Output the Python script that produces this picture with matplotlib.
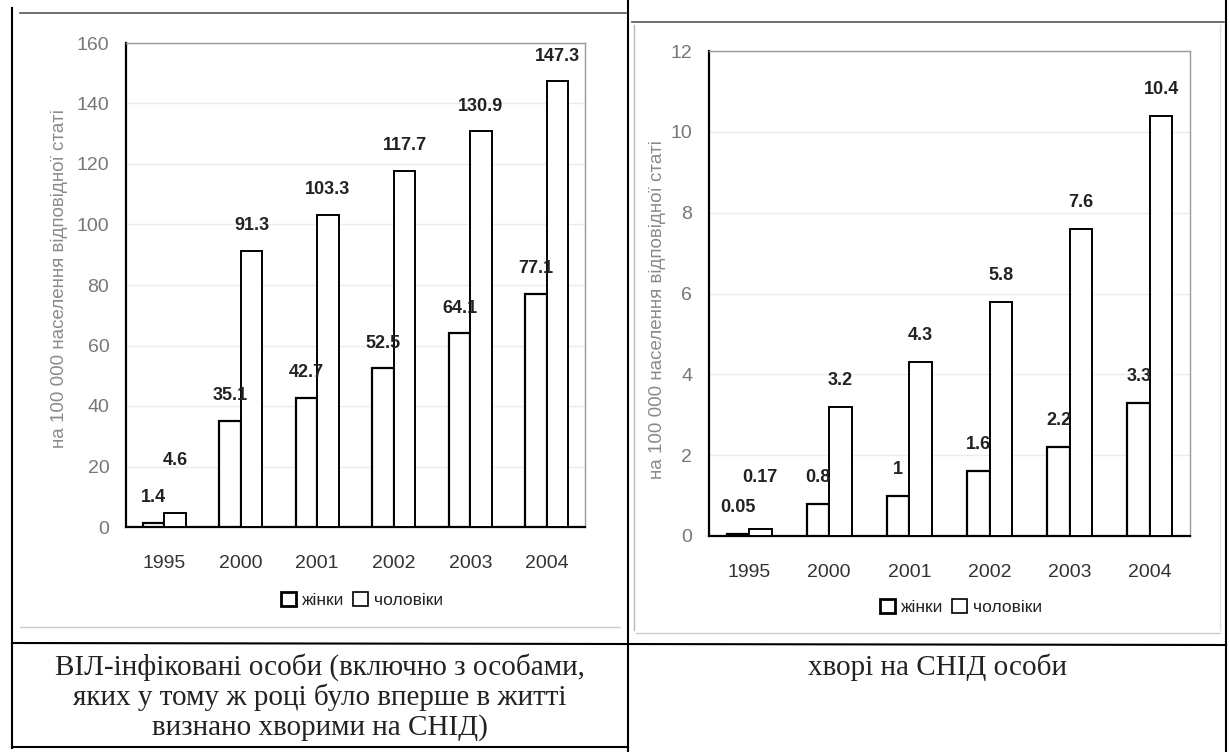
import matplotlib
matplotlib.use("Agg")
import matplotlib.pyplot as plt
from matplotlib.lines import Line2D
from matplotlib.patches import Patch
import numpy as np

plt.rcParams['font.family'] = ['Liberation Sans', 'DejaVu Sans']

# data
years = ['1995', '2000', '2001', '2002', '2003', '2004']
hiv_women = [1.4, 35.1, 42.7, 52.5, 64.1, 77.1]
hiv_men = [4.6, 91.3, 103.3, 117.7, 130.9, 147.3]
aids_women = [0.05, 0.8, 1, 1.6, 2.2, 3.3]
aids_men = [0.17, 3.2, 4.3, 5.8, 7.6, 10.4]

series_names = ['жінки', 'чоловіки']
ylabel = 'на 100 000 населення відповідної статі'
caption_left = ('ВІЛ-інфіковані особи (включно з особами,\n'
                'яких у тому ж році було вперше в житті\n'
                'визнано хворими на СНІД)')
caption_right = 'хворі на СНІД особи'

W, H = 1230, 752
fig = plt.figure(figsize=(W / 100, H / 100), dpi=100)


def px(x, y):
    return x / W, 1 - y / H


def line(x0, y0, x1, y1, color='black', lw=1.5):
    a, b = px(x0, y0)
    c, d = px(x1, y1)
    fig.add_artist(Line2D([a, c], [b, d], color=color, lw=lw,
                          transform=fig.transFigure))


def bar_chart(rect, women, men, ymax, ystep, lab_off, big_off):
    ax = fig.add_axes(rect)
    x = np.arange(len(years))
    w = 0.28
    b1 = ax.bar(x - w / 2, women, w, color='white', edgecolor='black', lw=1.6, zorder=3)
    b2 = ax.bar(x + w / 2, men, w, color='white', edgecolor='black', lw=1.4, zorder=3)
    ax.set_xlim(-0.5, len(years) - 0.5)
    ax.set_ylim(0, ymax)
    ax.set_yticks(np.arange(0, ymax + ystep / 2, ystep))
    ax.set_xticks(x)
    ax.set_xticklabels(years)
    ax.tick_params(length=0, labelsize=14)
    ax.tick_params(axis='y', colors='#777777', pad=12)
    ax.tick_params(axis='x', colors='#333333', pad=20)
    ax.grid(axis='y', color='#ebebeb', lw=1, zorder=0)
    for s in ['left', 'bottom']:
        ax.spines[s].set_color('black')
        ax.spines[s].set_linewidth(1.6)
    for s in ['top', 'right']:
        ax.spines[s].set_color('#999999')
        ax.spines[s].set_linewidth(1.0)
    for bars in (b1, b2):
        for i, r in enumerate(bars):
            v = r.get_height()
            off = big_off if (bars is b2 and i == 0) else lab_off
            ax.annotate(f'{v:g}', (r.get_x() + r.get_width() / 2, v),
                        xytext=(0, off), textcoords='offset points',
                        ha='center', va='center', fontsize=13,
                        fontweight='bold', color='#222222')
    return ax


axl = bar_chart([126 / W, 1 - 527 / H, 459 / W, 484 / H],
                hiv_women, hiv_men, 160, 20, 18, 38)
axr = bar_chart([709 / W, 1 - 536 / H, 481 / W, 485 / H],
                aids_women, aids_men, 12, 2, 19, 37)

handles = [Patch(facecolor='white', edgecolor='black', lw=2.0),
           Patch(facecolor='white', edgecolor='black', lw=1.2)]
for ax, (cx, cy) in ((axl, (362, 600)), (axr, (961, 607))):
    ax.legend(handles, series_names, loc='center', ncol=2,
              bbox_to_anchor=px(cx, cy), bbox_transform=fig.transFigure,
              frameon=False, fontsize=12.5, handlelength=0.85,
              handleheight=0.85, handletextpad=0.35, columnspacing=0.5,
              labelcolor='#222222')

fig.text(*px(60, 279), ylabel, rotation=90, ha='center', va='center',
         fontsize=13.5, color='#8a8a8a')
fig.text(*px(658, 310), ylabel, rotation=90, ha='center', va='center',
         fontsize=13.5, color='#8a8a8a')

fig.text(*px(320, 697), caption_left, ha='center', va='center',
         fontsize=21, family='Liberation Serif', color='#222222',
         linespacing=1.12)
fig.text(*px(937, 667), caption_right, ha='center', va='center',
         fontsize=21, family='Liberation Serif', color='#222222')

# table borders
line(12, 8, 12, 748)
line(628, 0, 628, 752)
line(1226, 0, 1226, 752)
line(12, 643, 1226, 645)
line(12, 747, 628, 747)

# chart area frames from the scan
line(20, 13, 626, 13, color='#555555', lw=1.2)
line(632, 22, 1224, 22, color='#555555', lw=1.2)
line(20, 627, 620, 627, color='#cccccc', lw=1)
line(636, 633, 1220, 633, color='#cccccc', lw=1)
line(634, 25, 634, 630, color='#bbbbbb', lw=1)
line(1220, 25, 1220, 630, color='#dddddd', lw=1)

fig.savefig('out.png', dpi=100, facecolor='white')
